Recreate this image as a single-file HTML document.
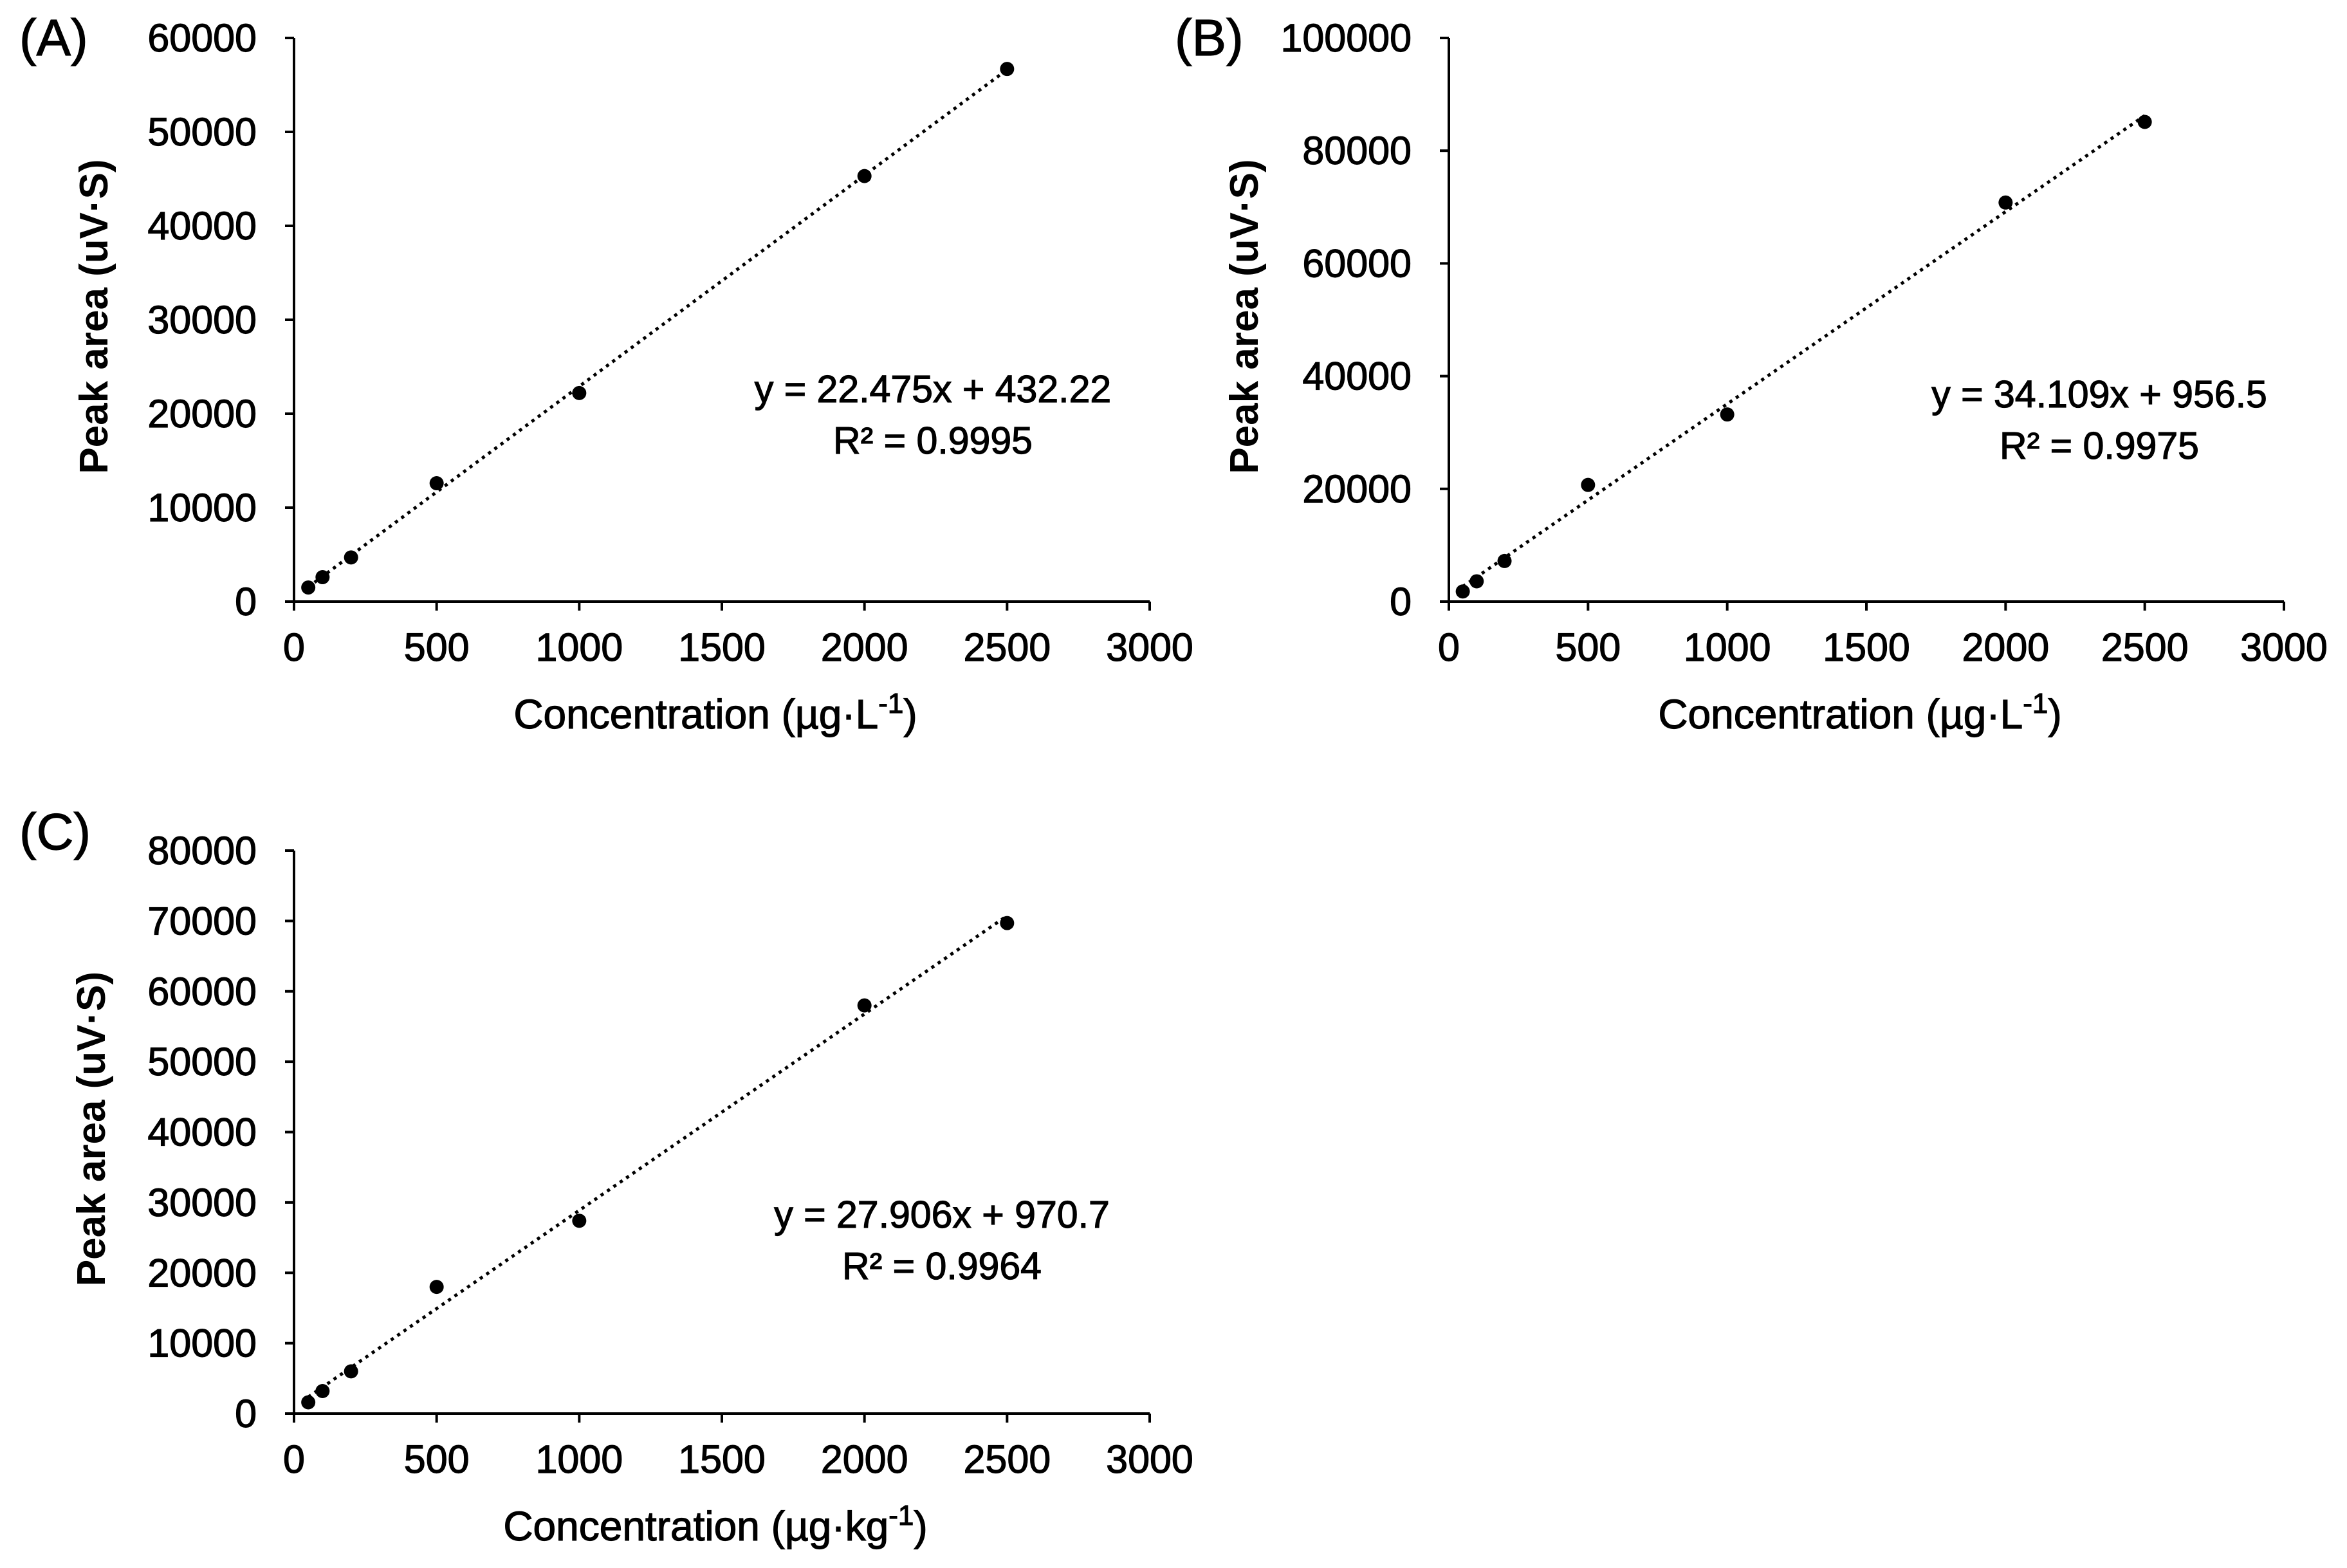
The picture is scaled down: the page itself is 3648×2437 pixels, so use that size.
<!DOCTYPE html>
<html><head><meta charset="utf-8"><style>
body{margin:0;background:#fff;}
svg{display:block;}
text{font-family:"Liberation Sans",sans-serif;fill:#000;}
.med{stroke:#000;stroke-width:1.2px;}
</style></head><body>
<svg id="fig" width="3648" height="2437" viewBox="0 0 3648 2437" xmlns="http://www.w3.org/2000/svg"></svg>
<script>
const xValues = [50, 100, 200, 500, 1000, 2000, 2500];
const seriesA = [1500, 2600, 4700, 12600, 22200, 45300, 56700];
const seriesB = [1800, 3600, 7200, 20700, 33200, 70800, 85100];
const seriesC = [1600, 3200, 6000, 18000, 27400, 58000, 69700];
const fitA = [22.475, 432.22];
const fitB = [34.109, 956.5];
const fitC = [27.906, 970.7];
const xTicks = [0, 500, 1000, 1500, 2000, 2500, 3000];
const yTicksA = [0, 10000, 20000, 30000, 40000, 50000, 60000];
const yTicksB = [0, 20000, 40000, 60000, 80000, 100000];
const yTicksC = [0, 10000, 20000, 30000, 40000, 50000, 60000, 70000, 80000];
const eqA = ["y = 22.475x + 432.22", "R² = 0.9995"];
const eqB = ["y = 34.109x + 956.5", "R² = 0.9975"];
const eqC = ["y = 27.906x + 970.7", "R² = 0.9964"];

const NS = "http://www.w3.org/2000/svg";
const svg = document.getElementById("fig");
function mk(tag, attrs, parent, txt){
  const e = document.createElementNS(NS, tag);
  for (const k in attrs) e.setAttribute(k, attrs[k]);
  if (txt !== undefined) e.textContent = txt;
  parent.appendChild(e);
  return e;
}
function panel(cfg){
  const g = mk("g", {}, svg);
  
  
  const yMax = cfg.yTicks[cfg.yTicks.length-1];
  const X = v => cfg.x0 + (v/3000)*(cfg.x1-cfg.x0);
  const Y = v => cfg.y0 - (v/yMax)*(cfg.y0-cfg.y1);
  const ax = mk("line", {x1:cfg.x0, y1:cfg.y0, x2:cfg.x1, y2:cfg.y0, stroke:"#000","stroke-width":4}, g);
  
  
  const ay = mk("line", {x1:cfg.x0, y1:cfg.y0, x2:cfg.x0, y2:cfg.y1, stroke:"#000","stroke-width":4}, g);
  
  
  xTicks.forEach(t=>{
    mk("line",{x1:X(t),y1:cfg.y0,x2:X(t),y2:cfg.y0+14,stroke:"#000","stroke-width":4},g);
    const tl = mk("text",{x:X(t),y:cfg.y0+92,"text-anchor":"middle","font-size":61,"class":"med"},g,String(t));
    
    
  });
  cfg.yTicks.forEach(t=>{
    mk("line",{x1:cfg.x0-14,y1:Y(t),x2:cfg.x0,y2:Y(t),stroke:"#000","stroke-width":4},g);
    const tl = mk("text",{x:cfg.x0-58,y:Y(t)+21,"text-anchor":"end","font-size":61,"class":"med"},g,String(t));
    
    
  });
  const xa = xValues[0], xb = xValues[xValues.length-1];
  const tr = mk("line",{x1:X(xa),y1:Y(cfg.fit[0]*xa+cfg.fit[1]),x2:X(xb),y2:Y(cfg.fit[0]*xb+cfg.fit[1]),stroke:"#000","stroke-width":5,"stroke-dasharray":"5 7"},g);
  
  
  cfg.vals.forEach((v,i)=>{
    const c = mk("circle",{cx:X(xValues[i]),cy:Y(v),r:11,fill:"#000"},g);
    
    
  });
  const e1 = mk("text",{x:cfg.eqx,y:cfg.eqy,"text-anchor":"middle","font-size":59,"class":"med"},g,cfg.eq[0]);
  
  
  const e2 = mk("text",{x:cfg.eqx,y:cfg.eqy+80,"text-anchor":"middle","font-size":59,"class":"med"},g,cfg.eq[1]);
  
  
  const yt = mk("text",{x:0,y:0,"text-anchor":"middle","font-size":62,"font-weight":"bold",transform:`translate(${cfg.ytx},${(cfg.y0+cfg.y1)/2-5}) rotate(-90)`},g,"Peak area (uV·S)");
  
  
  const xt = mk("text",{x:(cfg.x0+cfg.x1)/2-10,y:cfg.y0+197,"text-anchor":"middle","font-size":64,"class":"med"},g);
  
  
  xt.appendChild(document.createTextNode("Concentration (µg·" + cfg.unit));
  mk("tspan",{dy:-24,"font-size":44},xt,"-1");
  mk("tspan",{dy:24},xt,")");
  const lb = mk("text",{x:cfg.lx,y:cfg.ly,"font-size":80,"class":"med"},g,cfg.label);
  
  
}
panel({id:"a",label:"(A)",lx:30,ly:86,x0:457,x1:1787,y0:935,y1:59,yTicks:yTicksA,vals:seriesA,fit:fitA,eq:eqA,eqx:1450,eqy:625,ytx:167,unit:"L"});
panel({id:"b",label:"(B)",lx:1826,ly:86,x0:2252,x1:3550,y0:935,y1:59,yTicks:yTicksB,vals:seriesB,fit:fitB,eq:eqB,eqx:3263,eqy:633,ytx:1955,unit:"L"});
panel({id:"c",label:"(C)",lx:30,ly:1320,x0:457,x1:1787,y0:2197,y1:1322,yTicks:yTicksC,vals:seriesC,fit:fitC,eq:eqC,eqx:1464,eqy:1908,ytx:163,unit:"kg"});
</script>
</body></html>
